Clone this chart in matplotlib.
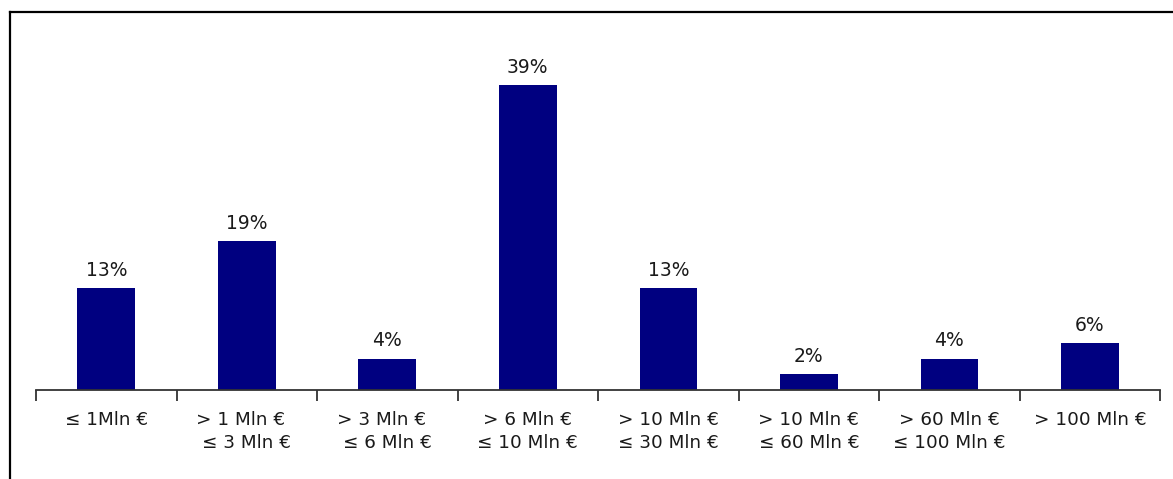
import numpy as np
import matplotlib.pyplot as plt
from matplotlib.lines import Line2D

plt.rcParams["font.family"] = ["DejaVu Sans"]

categories = ["≤ 1Mln €", "> 1 Mln €  \n≤ 3 Mln €", "> 3 Mln €  \n≤ 6 Mln €",
              "> 6 Mln €\n≤ 10 Mln €", "> 10 Mln €\n≤ 30 Mln €", "> 10 Mln €\n≤ 60 Mln €",
              "> 60 Mln €\n≤ 100 Mln €", "> 100 Mln €"]
values = [13, 19, 4, 39, 13, 2, 4, 6]

fig = plt.figure(figsize=(11.73, 4.79), dpi=100)
ax = fig.add_axes([0.0307, 0.1858, 0.9583, 0.735])

x = np.arange(len(values))
bars = ax.bar(x, values, width=0.41, color="#000080")
ax.bar_label(bars, labels=[f"{v}%" for v in values], padding=6,
             fontsize=13.5, color="#1a1a1a")

ax.set_xlim(-0.5, len(values) - 0.5)
ax.set_ylim(0, 45)

# labels centred under bars, ticks on category boundaries
ax.set_xticks(x)
ax.set_xticklabels(categories, fontsize=13.2, color="#1a1a1a", linespacing=1.35)
ax.tick_params(axis="x", which="major", length=0, pad=15)
ax.set_xticks(np.arange(-0.5, len(values)), minor=True)
ax.tick_params(axis="x", which="minor", length=8, width=1.3, color="#333333", direction="out")

ax.set_yticks([])
for s in ["top", "right", "left"]:
    ax.spines[s].set_visible(False)
ax.spines["bottom"].set_color("#333333")
ax.spines["bottom"].set_linewidth(1.3)

# outer frame (top and left only)
W, H = 1173, 479
fig.add_artist(Line2D([10 / W, 1.0], [1 - 12 / H, 1 - 12 / H], color="black", lw=1.6))
fig.add_artist(Line2D([10 / W, 10 / W], [0, 1 - 12 / H], color="black", lw=1.6))

fig.savefig("out.png", dpi=100)
